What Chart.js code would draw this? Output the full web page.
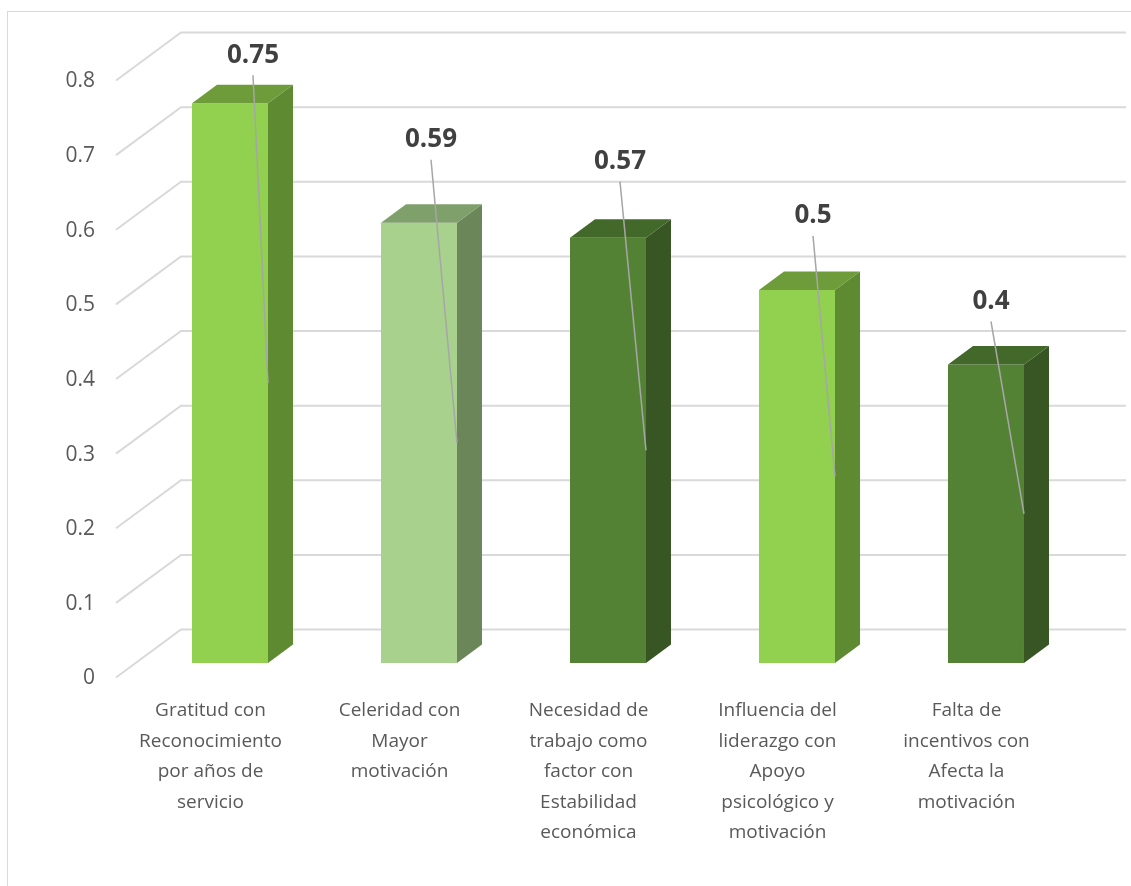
<!DOCTYPE html>
<html>
<head>
<meta charset="utf-8">
<script src="https://cdn.jsdelivr.net/npm/chart.js@4.4.1/dist/chart.umd.min.js"></script>
<style>
  html, body { margin: 0; padding: 0; background: #fff; }
  canvas { display: block; }
</style>
</head>
<body>
<canvas id="chart3d" width="1131" height="886"></canvas>
<script>
const categories = [
  ['Gratitud con', 'Reconocimiento', 'por años de', 'servicio'],
  ['Celeridad con', 'Mayor', 'motivación'],
  ['Necesidad de', 'trabajo como', 'factor con', 'Estabilidad', 'económica'],
  ['Influencia del', 'liderazgo con', 'Apoyo', 'psicológico y', 'motivación'],
  ['Falta de', 'incentivos con', 'Afecta la', 'motivación']
];
const values = [0.75, 0.59, 0.57, 0.5, 0.4];
const yTicks = [0, 0.1, 0.2, 0.3, 0.4, 0.5, 0.6, 0.7, 0.8];

// face colours per bar: front, side, top
const frontColors = ['#92D050', '#A9D18E', '#548235', '#92D050', '#548235'];
const sideColors = ['#5E8A31', '#6B8659', '#375623', '#5E8A31', '#375623'];
const topColors = ['#6E9C3A', '#7FA06B', '#43692A', '#6E9C3A', '#43692A'];

// hand-placed value label offsets from the bar's top centre (px)
const labelOffsets = [[23, -48], [12, -83], [12, -76], [16, -74], [5, -63]];

const FRONT = { dx: -19.5, dy: 14.5 };   // front wall relative to bar plane
const BACK = { dx: 45.5, dy: -33.5 };    // back wall relative to bar plane
const BAR_DEPTH = { dx: 25, dy: -18.5 };
const FONT = "'Open Sans', 'DejaVu Sans', sans-serif";

const threeD = {
  id: 'threeD',
  beforeDatasetsDraw(chart) {
    const ctx = chart.ctx;
    const area = chart.chartArea;
    const y = chart.scales.y;
    const x = chart.scales.x;
    ctx.save();
    // outer frame
    ctx.strokeStyle = '#D9D9D9';
    ctx.lineWidth = 1;
    ctx.strokeRect(7.5, 11.5, 1300, 1000);

    // gridlines: front diagonal + back wall
    ctx.strokeStyle = '#D9D9D9';
    ctx.lineWidth = 2;
    yTicks.forEach(v => {
      const py = y.getPixelForValue(v);
      ctx.beginPath();
      ctx.moveTo(area.left + FRONT.dx, py + FRONT.dy);
      ctx.lineTo(area.left + BACK.dx, py + BACK.dy);
      ctx.lineTo(area.right + BACK.dx, py + BACK.dy);
      ctx.stroke();
    });

    // y tick labels
    ctx.fillStyle = '#595959';
    ctx.font = '21px ' + FONT;
    ctx.textAlign = 'right';
    ctx.textBaseline = 'middle';
    yTicks.forEach(v => {
      const py = y.getPixelForValue(v);
      ctx.fillText(String(v), area.left + FRONT.dx - 21, py + FRONT.dy + 1);
    });

    // category labels
    ctx.font = '19px ' + FONT;
    ctx.textAlign = 'center';
    categories.forEach((lines, i) => {
      const px = x.getPixelForValue(i) + FRONT.dx;
      lines.forEach((line, j) => {
        ctx.fillText(line, px, 711 + j * 30.5);
      });
    });
    ctx.restore();
  },
  afterDatasetsDraw(chart) {
    const ctx = chart.ctx;
    const meta = chart.getDatasetMeta(0);
    ctx.save();
    meta.data.forEach((bar, i) => {
      const p = bar.getProps(['x', 'y', 'base', 'width'], true);
      const l = p.x - p.width / 2;
      const r = p.x + p.width / 2;
      const top = p.y;
      const base = p.base;
      // side face
      ctx.fillStyle = sideColors[i];
      ctx.beginPath();
      ctx.moveTo(r, top);
      ctx.lineTo(r + BAR_DEPTH.dx, top + BAR_DEPTH.dy);
      ctx.lineTo(r + BAR_DEPTH.dx, base + BAR_DEPTH.dy);
      ctx.lineTo(r, base);
      ctx.closePath();
      ctx.fill();
      // top face
      ctx.fillStyle = topColors[i];
      ctx.beginPath();
      ctx.moveTo(l, top);
      ctx.lineTo(l + BAR_DEPTH.dx, top + BAR_DEPTH.dy);
      ctx.lineTo(r + BAR_DEPTH.dx, top + BAR_DEPTH.dy);
      ctx.lineTo(r, top);
      ctx.closePath();
      ctx.fill();
    });

    // value labels with leader lines
    meta.data.forEach((bar, i) => {
      const p = bar.getProps(['x', 'y', 'base', 'width'], true);
      const lx = p.x + labelOffsets[i][0];
      const ly = p.y + labelOffsets[i][1];
      ctx.strokeStyle = '#A6A6A6';
      ctx.lineWidth = 1.5;
      ctx.beginPath();
      ctx.moveTo(lx, ly + 20);
      ctx.lineTo(p.x + p.width / 2, (p.y + p.base) / 2);
      ctx.stroke();
      ctx.fillStyle = '#404040';
      ctx.font = 'bold 26px ' + FONT;
      ctx.textAlign = 'center';
      ctx.textBaseline = 'middle';
      ctx.fillText(String(values[i]), lx, ly);
    });
    ctx.restore();
  }
};

new Chart(document.getElementById('chart3d'), {
  type: 'bar',
  data: {
    labels: categories,
    datasets: [{
      data: values,
      backgroundColor: frontColors,
      borderWidth: 0,
      categoryPercentage: 1,
      barPercentage: 0.402
    }]
  },
  options: {
    responsive: false,
    animation: false,
    layout: { padding: { left: 135.5, right: 50.5, top: 66, bottom: 223 } },
    plugins: { legend: { display: false }, tooltip: { enabled: false } },
    scales: {
      x: { display: false },
      y: { display: false, min: 0, max: 0.8 }
    }
  },
  plugins: [threeD]
});
</script>
</body>
</html>
